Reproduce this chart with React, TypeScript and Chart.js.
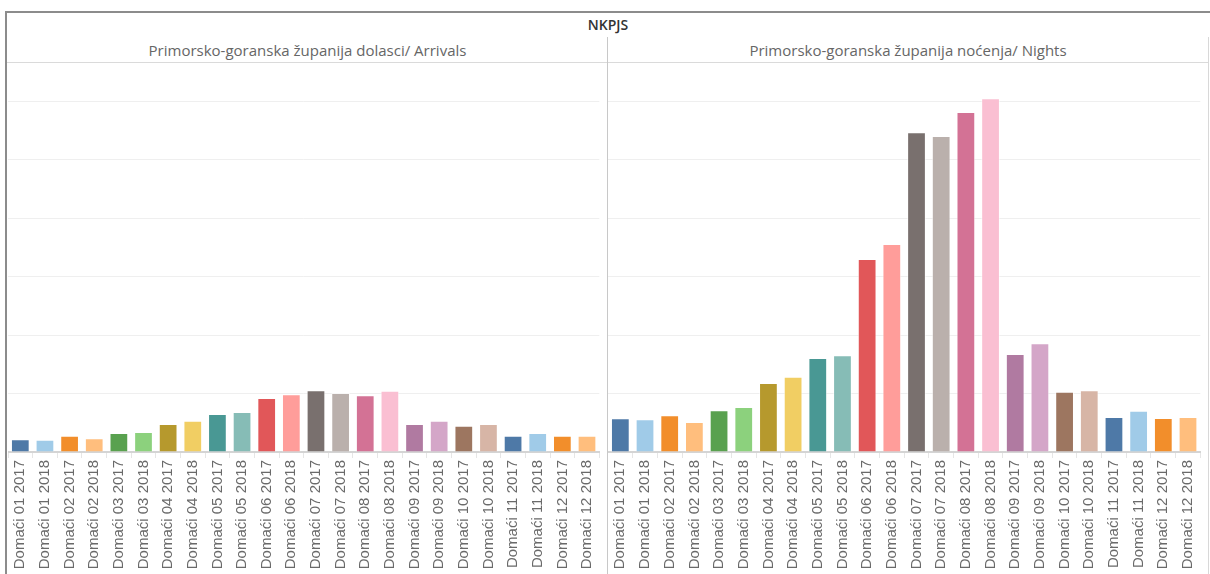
import React, { useEffect, useRef } from "react";
import { Chart, registerables } from "chart.js";

Chart.register(...registerables);

const categories = [
  "Domaći 01 2017", "Domaći 01 2018", "Domaći 02 2017", "Domaći 02 2018",
  "Domaći 03 2017", "Domaći 03 2018", "Domaći 04 2017", "Domaći 04 2018",
  "Domaći 05 2017", "Domaći 05 2018", "Domaći 06 2017", "Domaći 06 2018",
  "Domaći 07 2017", "Domaći 07 2018", "Domaći 08 2017", "Domaći 08 2018",
  "Domaći 09 2017", "Domaći 09 2018", "Domaći 10 2017", "Domaći 10 2018",
  "Domaći 11 2017", "Domaći 11 2018", "Domaći 12 2017", "Domaći 12 2018",
];

const arrivals = [
  10850, 10510, 13930, 11710, 16240, 17090, 23930, 26750,
  32480, 34190, 46150, 49320, 52740, 50430, 48460, 52390,
  23930, 26750, 22480, 23930, 13930, 16240, 13930, 13930,
];

const nights = [
  28800, 27950, 31370, 25640, 35640, 38460, 58970, 64360,
  80340, 82650, 164960, 177780, 273250, 270090, 290600, 302310,
  83760, 92910, 51540, 52740, 29910, 35300, 29060, 29910,
];

const barColors = [
  "#4E79A7", "#A0CBE8", "#F28E2B", "#FFBE7D", "#59A14F", "#8CD17D",
  "#B6992D", "#F1CE63", "#499894", "#86BCB6", "#E15759", "#FF9D9A",
  "#79706E", "#BAB0AC", "#D37295", "#FABFD2", "#B07AA1", "#D4A6C8",
  "#9D7660", "#D7B5A6", "#4E79A7", "#A0CBE8", "#F28E2B", "#FFBE7D",
];

const title = "NKPJS";
const panelTitles = [
  "Primorsko-goranska županija dolasci/ Arrivals",
  "Primorsko-goranska županija noćenja/ Nights",
];

const yMax = 332500;
const yTickValues = [0, 50000, 100000, 150000, 200000, 250000, 300000];

function Panel({ values, left, width }: { values: number[]; left: number; width: number }) {
  const ref = useRef<HTMLCanvasElement | null>(null);
  useEffect(() => {
    if (!ref.current) return;
    const chart = new Chart(ref.current, {
      type: "bar",
      data: {
        labels: categories,
        datasets: [
          {
            data: values,
            backgroundColor: barColors,
            borderColor: "rgba(255,255,255,0.55)",
            borderWidth: 1,
            categoryPercentage: 1,
            barPercentage: 0.76,
          },
        ],
      },
      options: {
        animation: false,
        responsive: false,
        maintainAspectRatio: false,
        layout: { padding: 0 },
        plugins: { legend: { display: false }, tooltip: { enabled: false }, title: { display: false } },
        scales: {
          x: {
            grid: { display: true, drawOnChartArea: false, drawTicks: true, tickLength: 6, color: "#e6e6e6", offset: true },
            border: { display: true, color: "#d4d4d4", width: 2 },
            ticks: {
              autoSkip: false,
              minRotation: 90,
              maxRotation: 90,
              padding: 2,
              color: "#6a6a6a",
              font: { family: "'Liberation Sans', Arial, sans-serif", size: 15 },
            },
            afterFit: (scale: any) => {
              scale.height = 150;
            },
          },
          y: {
            min: 0,
            max: yMax,
            ticks: { display: false },
            grid: { color: "#efefef", drawTicks: false, lineWidth: 1 },
            border: { display: false },
            afterBuildTicks: (scale: any) => {
              scale.ticks = yTickValues.map((v) => ({ value: v }));
            },
            afterFit: (scale: any) => {
              scale.width = 0;
            },
          },
        },
      },
    });
    return () => chart.destroy();
  }, [values]);
  return (
    <canvas
      ref={ref}
      width={width}
      height={539}
      style={{ position: "absolute", left, top: 63, width, height: 539 }}
    />
  );
}

export default function App() {
  const font = "'Open Sans', 'Liberation Sans', sans-serif";
  return (
    <div style={{ position: "fixed", left: 0, top: 0, width: 1210, height: 574, overflow: "hidden", background: "#fff" }}>
      <div style={{ position: "absolute", left: 5, top: 11, width: 1210, height: 640, borderLeft: "2px solid #8c8c8c", borderTop: "2px solid #8c8c8c" }} />
      <div style={{ position: "absolute", left: 8, top: 16, width: 1200, textAlign: "center", fontFamily: font, fontSize: 14, fontWeight: 600, color: "#333", lineHeight: "18px" }}>
        {title}
      </div>
      <div style={{ position: "absolute", left: 8, top: 40, width: 599, textAlign: "center", fontFamily: font, fontSize: 15, color: "#666", lineHeight: "20px" }}>
        {panelTitles[0]}
      </div>
      <div style={{ position: "absolute", left: 608, top: 40, width: 600, textAlign: "center", fontFamily: font, fontSize: 15, color: "#666", lineHeight: "20px" }}>
        {panelTitles[1]}
      </div>
      <div style={{ position: "absolute", left: 7, top: 62, width: 1201, height: 1, background: "#dadada" }} />
      <Panel values={arrivals} left={8} width={599} />
      <Panel values={nights} left={608} width={600} />
      <div style={{ position: "absolute", left: 607, top: 37, width: 1, height: 560, background: "#c8c8c8" }} />
      <div style={{ position: "absolute", left: 1208, top: 37, width: 1, height: 560, background: "#d8d8d8" }} />
    </div>
  );
}
